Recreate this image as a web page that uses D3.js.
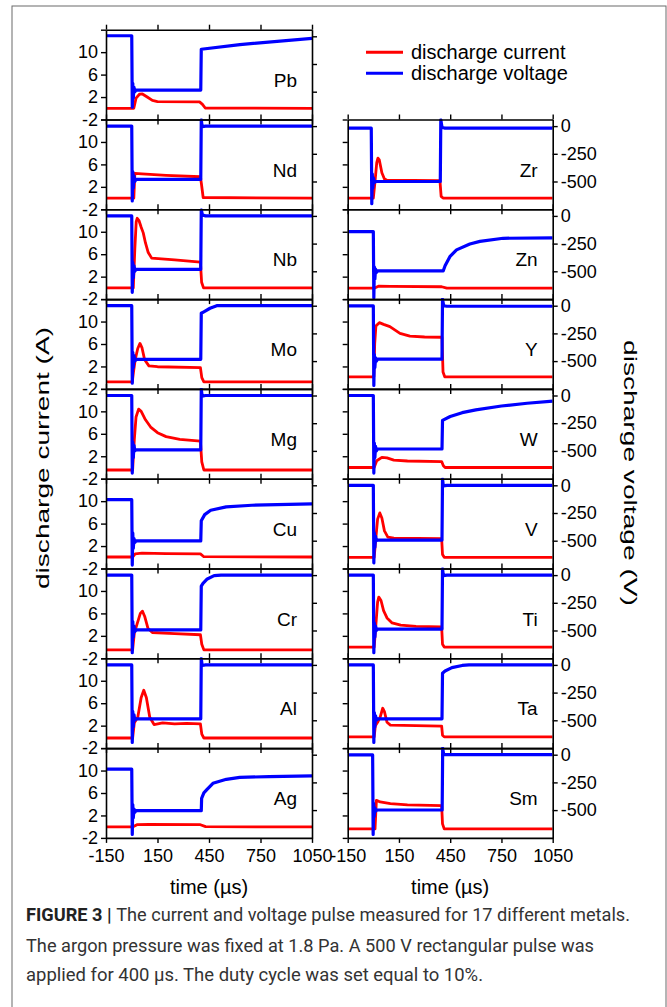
<!DOCTYPE html>
<html>
<head>
<meta charset="utf-8">
<script src="https://cdn.jsdelivr.net/npm/d3@7"></script>
<style>
  body { margin: 0; background: #fff; }
  svg { display: block; }
  text { font-family: "Liberation Sans", Arial, sans-serif; fill: #000; }
</style>
</head>
<body>
<div id="chart"></div>
<script>
// ---- data ----
const timeTicks = [-150, 150, 450, 750, 1050];
const currentTicks = [-2, 2, 6, 10, 14];
const currentLabels = [-2, 2, 6, 10];
const voltageTicks = [0, -250, -500];
const leftMetals = ["Pb", "Nd", "Nb", "Mo", "Mg", "Cu", "Cr", "Al", "Ag"];
const rightMetals = ["Zr", "Zn", "Y", "W", "V", "Ti", "Ta", "Sm"];

// [time µs, current A]  /  [time µs, voltage V]
const currentPb = [[-150,0],[12,0],[25,1.8],[45,2.5],[62,2.55],[90,2.0],[120,1.4],[150,1.2],[395,1.15],[412,0.7],[428,0.05],[1050,0]];
const voltagePb = [[-150,5],[0,5],[3,-640],[6,-424],[9,-560],[13,-460],[18,-500],[25,-485],[402,-485],[405,-117],[630,-75],[1050,-18]];
const currentNd = [[-150,0],[12,0],[18,4.4],[60,4.3],[200,4.05],[400,3.8],[406,2.5],[416,0.1],[1050,0]];
const voltageNd = [[-150,0],[0,0],[3,-675],[6,-410],[9,-560],[13,-450],[18,-500],[25,-480],[402,-480],[405,58],[410,-5],[430,0],[1050,0]];
const currentNb = [[-150,0],[9,0],[18,7],[26,11.8],[32,12.4],[42,12],[55,10.8],[67,9.8],[80,8],[96,6.3],[116,5.3],[250,5],[400,4.6],[407,1],[418,0],[1050,0]];
const voltageNb = [[-150,0],[0,0],[3,-690],[6,-420],[9,-560],[13,-450],[18,-500],[25,-482],[402,-482],[405,55],[412,8],[430,0],[1050,0]];
const currentMo = [[-150,-0.75],[3,-0.75],[10,1],[20,3.2],[35,5.2],[48,6.1],[60,5.3],[75,3.2],[100,2.1],[150,1.95],[400,1.8],[408,0],[420,-0.75],[1050,-0.75]];
const voltageMo = [[-150,0],[0,0],[3,-700],[6,-420],[9,-560],[13,-450],[18,-500],[25,-484],[402,-484],[405,-68],[420,-55],[456,-23],[495,0],[1050,0]];
const currentMg = [[-150,-0.45],[5,-0.45],[15,5],[25,9],[40,10.4],[55,10],[80,8.5],[110,7.2],[150,6.2],[200,5.5],[280,5],[400,4.7],[408,1],[420,-0.45],[1050,-0.45]];
const voltageMg = [[-150,0],[0,0],[3,-700],[6,-420],[9,-560],[13,-450],[18,-500],[25,-490],[402,-490],[405,58],[410,-5],[430,0],[1050,0]];
const currentCu = [[-150,0.05],[5,0.05],[20,0.6],[60,0.75],[200,0.65],[400,0.6],[420,0.1],[1050,0.05]];
const voltageCu = [[-150,-130],[0,-130],[3,-720],[6,-430],[9,-570],[13,-480],[18,-515],[25,-502],[402,-502],[405,-320],[425,-265],[460,-225],[550,-195],[700,-180],[1050,-168]];
const currentCr = [[-150,-0.5],[5,-0.5],[15,2.5],[30,4],[50,6],[62,6.4],[75,5.5],[95,3.3],[120,2.6],[250,2.4],[400,2.2],[408,0.5],[420,-0.5],[1050,-0.5]];
const voltageCr = [[-150,0],[0,0],[3,-700],[6,-420],[9,-560],[13,-460],[18,-510],[25,-495],[402,-495],[405,-100],[415,-75],[440,-35],[480,-5],[520,0],[1050,0]];
const currentAl = [[-150,-0.2],[5,-0.2],[15,2.5],[35,3.5],[55,7],[70,8.3],[85,7],[105,3.5],[130,2.2],[180,2.5],[250,2.3],[320,2.4],[400,2.3],[408,0.5],[420,-0.2],[1050,-0.2]];
const voltageAl = [[-150,0],[0,0],[3,-700],[6,-420],[9,-560],[13,-450],[18,-500],[25,-487],[402,-487],[405,58],[410,-5],[430,0],[1050,0]];
const currentAg = [[-150,-0.05],[5,-0.05],[30,0.35],[100,0.4],[400,0.35],[430,0],[1050,-0.05]];
const voltageAg = [[-150,-131],[0,-131],[3,-720],[6,-450],[9,-570],[13,-490],[18,-520],[25,-505],[405,-505],[407,-395],[420,-345],[436,-318],[473,-258],[551,-222],[629,-204],[800,-198],[1050,-192]];
const currentZr = [[-150,0],[0,0],[10,3],[20,6.3],[27,7.1],[35,6.8],[50,4.5],[65,3.4],[78,3.2],[390,3.1],[397,0.3],[408,0],[1050,0]];
const voltageZr = [[-150,-19],[-12,-19],[-9,-700],[-6,-430],[-3,-560],[1,-470],[6,-510],[13,-500],[392,-500],[395,58],[402,-10],[420,-19],[1050,-19]];
const currentZn = [[-150,-0.05],[5,-0.05],[30,0.3],[100,0.25],[400,0.2],[430,-0.05],[1050,-0.05]];
const voltageZn = [[-150,-142],[0,-142],[3,-740],[6,-460],[9,-570],[13,-480],[18,-510],[25,-497],[409,-497],[420,-450],[448,-368],[487,-307],[565,-253],[624,-230],[760,-202],[1050,-198]];
const currentY = [[-150,0.15],[3,0.15],[8,6],[15,9.2],[35,9.8],[60,9.5],[97,9.1],[156,7.9],[214,7.4],[300,7.25],[402,7.2],[408,1],[418,0.15],[1050,0.15]];
const voltageY = [[-150,-2],[0,-2],[3,-720],[6,-440],[9,-560],[13,-470],[18,-500],[25,-483],[402,-483],[405,58],[412,0],[430,-5],[1050,-5]];
const currentW = [[-150,0],[5,0],[20,1.2],[50,1.8],[80,1.7],[120,1.3],[200,1.15],[400,1.05],[410,0.3],[420,0],[1050,0]];
const voltageW = [[-150,0],[0,0],[3,-700],[6,-430],[9,-560],[13,-460],[18,-500],[25,-483],[402,-483],[405,-225],[450,-190],[520,-155],[600,-130],[750,-95],[900,-70],[1050,-50]];
const currentV = [[-150,0],[5,0],[15,3.5],[25,6.8],[38,7.9],[50,7],[65,4.7],[85,3.6],[120,3.4],[400,3.3],[405,0.5],[415,0],[1050,0]];
const voltageV = [[-150,0],[0,0],[3,-700],[6,-430],[9,-560],[13,-460],[18,-500],[25,-494],[402,-494],[405,58],[410,-5],[430,0],[1050,0]];
const currentTi = [[-150,0],[5,0],[15,4],[25,8],[32,8.9],[45,8.3],[60,6.5],[80,5.2],[110,4.3],[160,3.9],[250,3.7],[400,3.6],[405,0.5],[415,0],[1050,0]];
const voltageTi = [[-150,0],[0,0],[3,-700],[6,-430],[9,-560],[13,-460],[18,-500],[25,-487],[402,-487],[405,58],[410,-5],[430,0],[1050,0]];
const currentTa = [[-150,0],[5,0],[12,2],[25,2.6],[40,3.5],[55,5.1],[65,4.5],[80,2.6],[100,2.1],[250,2],[400,1.9],[405,0.3],[415,0],[1050,0]];
const voltageTa = [[-150,0],[0,0],[3,-700],[6,-430],[9,-560],[13,-460],[18,-500],[25,-487],[402,-487],[405,-75],[420,-55],[460,-25],[520,-5],[560,0],[1050,0]];
const currentSm = [[-150,-0.4],[10,-0.4],[18,4.7],[40,4.4],[100,4.1],[200,3.9],[400,3.75],[405,0.5],[415,-0.4],[1050,-0.4]];
const voltageSm = [[-150,-2],[-4,-2],[-1,-720],[2,-440],[5,-560],[9,-480],[14,-510],[20,-499],[403,-499],[406,58],[412,0],[1050,0]];

const currents = {Pb: currentPb, Nd: currentNd, Nb: currentNb, Mo: currentMo, Mg: currentMg, Cu: currentCu, Cr: currentCr, Al: currentAl, Ag: currentAg,
                  Zr: currentZr, Zn: currentZn, Y: currentY, W: currentW, V: currentV, Ti: currentTi, Ta: currentTa, Sm: currentSm};
const voltages = {Pb: voltagePb, Nd: voltageNd, Nb: voltageNb, Mo: voltageMo, Mg: voltageMg, Cu: voltageCu, Cr: voltageCr, Al: voltageAl, Ag: voltageAg,
                  Zr: voltageZr, Zn: voltageZn, Y: voltageY, W: voltageW, V: voltageV, Ti: voltageTi, Ta: voltageTa, Sm: voltageSm};

const colors = { current: "#ff0000", voltage: "#0000ff" };

// ---- layout ----
const W = 667, H = 1007;
const panelH = 89.8, top0 = 29.7;

const svg = d3.select("#chart").append("svg")
    .attr("width", W)
    .attr("height", H);

svg.append("rect").attr("width", W).attr("height", H).attr("fill", "#fff");
// figure frame
svg.append("rect")
    .attr("x", 12).attr("y", 6)
    .attr("width", 654).attr("height", 1020)
    .attr("fill", "none")
    .attr("stroke", "#6a6a6a")
    .attr("stroke-width", 1);

const xLeft = d3.scaleLinear().domain([-150, 1050]).range([106, 312]);
const xRight = d3.scaleLinear().domain([-150, 1050]).range([347.7, 552.7]);

function styleAxis(g) {
    g.selectAll("path.domain").attr("stroke", "#000").attr("stroke-width", 1.6);
    g.selectAll(".tick line").attr("stroke", "#000").attr("stroke-width", 1.4);
    g.selectAll(".tick text").style("font-size", "18px").attr("fill", "#000");
}

function drawPanel(name, x, row, isLeft, isBottom) {
    const top = top0 + row * panelH, bottom = top + panelH;
    const yI = d3.scaleLinear().domain([-2, 14]).range([bottom, top]);
    const yV = d3.scaleLinear().domain([-751, 59.6]).range([bottom, top]);
    const [x0, x1] = x.range();
    const g = svg.append("g");

    const clipId = "clip-" + name;
    g.append("clipPath").attr("id", clipId)
        .append("rect").attr("x", x0).attr("y", top - 1).attr("width", x1 - x0).attr("height", panelH + 2);

    const lineI = d3.line().x(d => x(d[0])).y(d => yI(d[1]));
    const lineV = d3.line().x(d => x(d[0])).y(d => yV(d[1]));

    g.append("path").datum(currents[name])
        .attr("clip-path", `url(#${clipId})`)
        .attr("d", lineI)
        .attr("fill", "none")
        .attr("stroke", colors.current)
        .attr("stroke-width", 2.8)
        .attr("stroke-linejoin", "round");
    g.append("path").datum(voltages[name])
        .attr("clip-path", `url(#${clipId})`)
        .attr("d", lineV)
        .attr("fill", "none")
        .attr("stroke", colors.voltage)
        .attr("stroke-width", 3.2)
        .attr("stroke-linejoin", "round");

    // axes
    g.append("g").attr("transform", `translate(${x0},0)`)
        .call(d3.axisLeft(yI).tickValues(currentTicks).tickSize(5).tickSizeOuter(0)
            .tickPadding(3)
            .tickFormat(d => isLeft && currentLabels.includes(d) ? String(d) : ""))
        .call(styleAxis);
    g.append("g").attr("transform", `translate(${x1},0)`)
        .call(d3.axisRight(yV).tickValues(voltageTicks).tickSize(5).tickSizeOuter(0)
            .tickPadding(3)
            .tickFormat(d => isLeft ? "" : String(d)))
        .call(styleAxis);
    g.append("g").attr("transform", `translate(0,${top})`)
        .call(d3.axisTop(x).tickValues(timeTicks).tickSize(5).tickSizeOuter(0).tickFormat(""))
        .call(styleAxis);
    g.append("g").attr("transform", `translate(0,${bottom})`)
        .call(d3.axisBottom(x).tickValues(timeTicks).tickSize(5).tickSizeOuter(0)
            .tickPadding(6)
            .tickFormat(d => isBottom ? String(d) : ""))
        .call(styleAxis);

    g.append("text")
        .attr("x", x1 - 15)
        .attr("y", top + 57)
        .attr("text-anchor", "end")
        .style("font-size", "19px")
        .text(name);
}

leftMetals.forEach((m, i) => drawPanel(m, xLeft, i, true, i === leftMetals.length - 1));
rightMetals.forEach((m, i) => drawPanel(m, xRight, i + 1, false, i === rightMetals.length - 1));

// axis titles
const midLeft = (xLeft.range()[0] + xLeft.range()[1]) / 2;
const midRight = (xRight.range()[0] + xRight.range()[1]) / 2;
[midLeft, midRight].forEach(cx => {
    svg.append("text")
        .attr("x", cx).attr("y", 894)
        .attr("text-anchor", "middle")
        .style("font-size", "20px")
        .text("time (µs)");
});

svg.append("text")
    .attr("transform", "translate(43,458) rotate(-90)")
    .attr("text-anchor", "middle")
    .attr("dy", "0.35em")
    .attr("textLength", 262)
    .attr("lengthAdjust", "spacingAndGlyphs")
    .style("font-size", "18px")
    .text("discharge current (A)");

svg.append("text")
    .attr("transform", "translate(630,473) rotate(90)")
    .attr("text-anchor", "middle")
    .attr("dy", "0.35em")
    .attr("textLength", 266)
    .attr("lengthAdjust", "spacingAndGlyphs")
    .style("font-size", "18px")
    .text("discharge voltage (V)");

// legend
const legendItems = [
    {label: "discharge current", color: colors.current, y: 52.3},
    {label: "discharge voltage", color: colors.voltage, y: 73.3}
];
legendItems.forEach(d => {
    svg.append("line")
        .attr("x1", 366).attr("x2", 403)
        .attr("y1", d.y).attr("y2", d.y)
        .attr("stroke", d.color).attr("stroke-width", 3);
    svg.append("text")
        .attr("x", 411).attr("y", d.y + 7)
        .style("font-size", "20px")
        .text(d.label);
});

// caption
const captionLines = [
    {bold: "FIGURE 3 | ", rest: "The current and voltage pulse measured for 17 different metals.", y: 921, len: 604},
    {bold: "", rest: "The argon pressure was fixed at 1.8 Pa. A 500 V rectangular pulse was", y: 952, len: 568},
    {bold: "", rest: "applied for 400 \u00b5s. The duty cycle was set equal to 10%.", y: 981, len: 457}
];
captionLines.forEach(c => {
    const t = svg.append("text")
        .attr("x", 26).attr("y", c.y)
        .attr("textLength", c.len)
        .attr("lengthAdjust", "spacingAndGlyphs")
        .style("font-family", "'Liberation Sans Narrow', 'Roboto', sans-serif")
        .style("font-size", "19px");
    if (c.bold) t.append("tspan").style("font-weight", "bold").attr("fill", "#222").text(c.bold);
    t.append("tspan").attr("fill", "#333").text(c.rest);
});
</script>
</body>
</html>
